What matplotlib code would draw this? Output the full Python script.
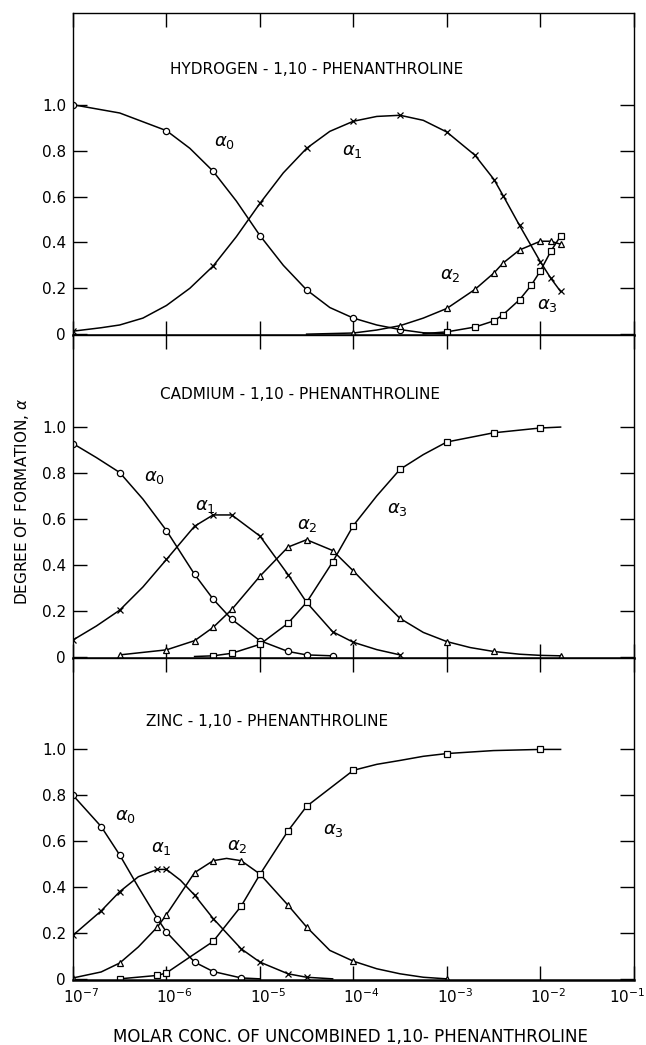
import numpy as np
import matplotlib.pyplot as plt
from matplotlib.ticker import NullLocator
from matplotlib.transforms import ScaledTranslation

# ---- hydrogen - 1,10-phenanthroline (marked points, then extra points)
h_a0_x = [1e-7, 1e-6, 3.16e-6, 1e-5, 3.16e-5, 1e-4, 3.16e-4]
h_a0_y = [1.0, 0.887, 0.71, 0.43, 0.193, 0.07, 0.02]
h_a0_cx = [3.16e-7, 1.78e-6, 5.6e-6, 1.78e-5, 5.6e-5, 1.78e-4, 5.6e-4, 1e-3]
h_a0_cy = [0.964, 0.81, 0.58, 0.30, 0.116, 0.04, 0.006, 0.002]

h_a1_x = [1e-7, 3.16e-6, 1e-5, 3.16e-5, 1e-4, 3.16e-4, 1e-3, 2e-3, 3.2e-3, 4e-3, 6e-3, 1e-2, 1.3e-2, 1.65e-2]
h_a1_y = [0.013, 0.297, 0.57, 0.81, 0.928, 0.954, 0.881, 0.78, 0.674, 0.604, 0.474, 0.316, 0.243, 0.186]
h_a1_cx = [2e-7, 3.16e-7, 5.6e-7, 1e-6, 1.78e-6, 5.6e-6, 1.78e-5, 5.6e-5, 1.78e-4, 5.6e-4]
h_a1_cy = [0.028, 0.04, 0.07, 0.125, 0.20, 0.425, 0.703, 0.884, 0.949, 0.932]

h_a2_x = [1e-4, 3.16e-4, 1e-3, 2e-3, 3.2e-3, 4e-3, 6e-3, 1e-2, 1.3e-2, 1.65e-2]
h_a2_y = [0.005, 0.037, 0.112, 0.195, 0.267, 0.31, 0.367, 0.405, 0.405, 0.392]
h_a2_cx = [3.16e-5, 1.78e-4, 5.6e-4]
h_a2_cy = [0.0, 0.018, 0.07]

h_a3_x = [1e-3, 2e-3, 3.2e-3, 4e-3, 6e-3, 8e-3, 1e-2, 1.3e-2, 1.65e-2]
h_a3_y = [0.01, 0.031, 0.058, 0.085, 0.15, 0.213, 0.275, 0.362, 0.428]
h_a3_cx = [5.6e-4]
h_a3_cy = [0.002]

# ---- cadmium - 1,10-phenanthroline
c_a0_x = [1e-7, 3.16e-7, 1e-6, 2e-6, 3.16e-6, 5e-6, 1e-5, 2e-5, 3.16e-5, 6e-5]
c_a0_y = [0.928, 0.802, 0.549, 0.358, 0.25, 0.162, 0.069, 0.022, 0.007, 0.003]
c_a0_cx = [1.78e-7, 5.6e-7]
c_a0_cy = [0.867, 0.686]

c_a1_x = [1e-7, 3.16e-7, 1e-6, 2e-6, 3.16e-6, 5e-6, 1e-5, 2e-5, 6e-5, 1e-4, 3.16e-4]
c_a1_y = [0.072, 0.202, 0.423, 0.568, 0.617, 0.617, 0.525, 0.357, 0.108, 0.062, 0.007]
c_a1_cx = [1.78e-7, 5.6e-7, 3.16e-5, 1.78e-4]
c_a1_cy = [0.133, 0.303, 0.236, 0.03]

c_a2_x = [3.16e-7, 1e-6, 2e-6, 3.16e-6, 5e-6, 1e-5, 2e-5, 3.16e-5, 6e-5, 1e-4, 3.16e-4, 1e-3, 3.16e-3, 1.65e-2]
c_a2_y = [0.007, 0.029, 0.069, 0.127, 0.205, 0.35, 0.477, 0.509, 0.462, 0.373, 0.166, 0.065, 0.022, 0.003]
c_a2_cx = [1.78e-4, 5.6e-4, 1.78e-3, 6e-3, 1e-2]
c_a2_cy = [0.267, 0.105, 0.039, 0.01, 0.005]

c_a3_x = [3.16e-6, 5e-6, 1e-5, 2e-5, 3.16e-5, 6e-5, 1e-4, 3.16e-4, 1e-3, 3.16e-3, 1e-2]
c_a3_y = [0.003, 0.014, 0.053, 0.145, 0.236, 0.412, 0.571, 0.816, 0.935, 0.975, 0.996]
c_a3_cx = [2e-6, 1.78e-4, 5.6e-4, 1.65e-2]
c_a3_cy = [0.0, 0.70, 0.88, 1.0]

# ---- zinc - 1,10-phenanthroline
z_a0_x = [1e-7, 2e-7, 3.16e-7, 8e-7, 1e-6, 2e-6, 3.16e-6, 6.3e-6]
z_a0_y = [0.80, 0.664, 0.54, 0.263, 0.204, 0.073, 0.032, 0.004]
z_a0_cx = [5e-7, 1e-5]
z_a0_cy = [0.40, 0.0]

z_a1_x = [1e-7, 2e-7, 3.16e-7, 8e-7, 1e-6, 2e-6, 3.16e-6, 6.3e-6, 1e-5, 2e-5, 3.16e-5]
z_a1_y = [0.19, 0.296, 0.38, 0.477, 0.477, 0.365, 0.263, 0.131, 0.073, 0.022, 0.007]
z_a1_cx = [5e-7, 1.41e-6, 6e-5]
z_a1_cy = [0.445, 0.43, 0.0]

z_a2_x = [1e-7, 3.16e-7, 8e-7, 1e-6, 2e-6, 3.16e-6, 6.3e-6, 1e-5, 2e-5, 3.16e-5, 1e-4, 1e-3]
z_a2_y = [0.004, 0.069, 0.226, 0.28, 0.463, 0.515, 0.515, 0.457, 0.321, 0.226, 0.077, 0.0]
z_a2_cx = [2e-7, 5e-7, 4.4e-6, 5.6e-5, 1.78e-4, 3.16e-4, 5.6e-4]
z_a2_cy = [0.03, 0.139, 0.525, 0.124, 0.044, 0.022, 0.007]

z_a3_x = [3.16e-7, 8e-7, 1e-6, 3.16e-6, 6.3e-6, 1e-5, 2e-5, 3.16e-5, 1e-4, 1e-3, 1e-2]
z_a3_y = [0.0, 0.015, 0.026, 0.163, 0.317, 0.455, 0.645, 0.752, 0.909, 0.982, 1.0]
z_a3_cx = [1.78e-6, 5.6e-5, 1.78e-4, 3.16e-4, 5.6e-4, 3.16e-3, 1.65e-2]
z_a3_cy = [0.095, 0.83, 0.935, 0.952, 0.97, 0.995, 1.0]

titles = ['HYDROGEN - 1,10 - PHENANTHROLINE',
          'CADMIUM - 1,10 - PHENANTHROLINE',
          'ZINC - 1,10 - PHENANTHROLINE']
title_pos = [(1.08e-6, 1.153), (8.5e-7, 1.143), (6.0e-7, 1.123)]

y_ticks = [0, 0.2, 0.4, 0.6, 0.8, 1.0]
y_tick_labels = ['0', '0.2', '0.4', '0.6', '0.8', '1.0']
x_ticks = [1e-7, 1e-6, 1e-5, 1e-4, 1e-3, 1e-2, 1e-1]
x_tick_labels = [r'$10^{-7}$', r'$10^{-6}$', r'$10^{-5}$', r'$10^{-4}$',
                 r'$10^{-3}$', r'$10^{-2}$', r'$10^{-1}$']

# positions of the alpha labels, per panel
h_lab = [(3.2e-6, 0.80), (7.5e-5, 0.76), (8.5e-4, 0.22), (9.2e-3, 0.09)]
c_lab = [(5.8e-7, 0.745), (2.0e-6, 0.615), (2.5e-5, 0.535), (2.3e-4, 0.605)]
z_lab = [(2.8e-7, 0.67), (6.9e-7, 0.53), (4.4e-6, 0.54), (4.7e-5, 0.61)]


def DrawSeries(ax, mx, my, cx, cy, marker, ms):
    x = np.array(mx + cx)
    y = np.array(my + cy)
    order = np.argsort(x)
    ax.plot(x[order], y[order], 'k-', linewidth=1.1)
    ax.plot(mx, my, linestyle='none', marker=marker, ms=ms,
            mfc='white', mec='k', mew=0.9)


def SetupAxes(ax):
    ax.set_xscale('log')
    ax.set_xlim(1e-7, 1e-1)
    ax.set_ylim(-0.005, 1.4)
    ax.set_xticks(x_ticks)
    ax.set_xticklabels(x_tick_labels)
    ax.set_yticks(y_ticks)
    ax.set_yticklabels(y_tick_labels)
    ax.xaxis.set_minor_locator(NullLocator())
    ax.tick_params(which='major', direction='in', length=10, width=1.0,
                   left=True, right=True, top=True, bottom=True,
                   labelsize=11, pad=5)
    for side in ['left', 'right', 'top']:
        ax.spines[side].set_linewidth(1.0)
    ax.spines['bottom'].set_linewidth(1.8)


if __name__ == "__main__":
    fig, axes = plt.subplots(3, 1, figsize=(6.46, 10.45), dpi=100, sharex=True)
    plt.subplots_adjust(left=0.113, right=0.981, top=0.9876, bottom=0.0622, hspace=0)

    panels = [
        [(h_a0_x, h_a0_y, h_a0_cx, h_a0_cy), (h_a1_x, h_a1_y, h_a1_cx, h_a1_cy),
         (h_a2_x, h_a2_y, h_a2_cx, h_a2_cy), (h_a3_x, h_a3_y, h_a3_cx, h_a3_cy)],
        [(c_a0_x, c_a0_y, c_a0_cx, c_a0_cy), (c_a1_x, c_a1_y, c_a1_cx, c_a1_cy),
         (c_a2_x, c_a2_y, c_a2_cx, c_a2_cy), (c_a3_x, c_a3_y, c_a3_cx, c_a3_cy)],
        [(z_a0_x, z_a0_y, z_a0_cx, z_a0_cy), (z_a1_x, z_a1_y, z_a1_cx, z_a1_cy),
         (z_a2_x, z_a2_y, z_a2_cx, z_a2_cy), (z_a3_x, z_a3_y, z_a3_cx, z_a3_cy)],
    ]
    labels = [h_lab, c_lab, z_lab]
    markers = [('o', 4.5), ('x', 5), ('^', 4.5), ('s', 4.2)]

    for i, ax in enumerate(axes):
        SetupAxes(ax)
        for (mx, my, cx, cy), (mk, ms) in zip(panels[i], markers):
            DrawSeries(ax, mx, my, cx, cy, mk, ms)
        for k, (lx, ly) in enumerate(labels[i]):
            ax.text(lx, ly, r'$\alpha_{%d}$' % k, fontsize=13, ha='left', va='bottom')
        ax.text(title_pos[i][0], title_pos[i][1], titles[i], fontsize=11,
                ha='left', va='center')

    axes[0].tick_params(labelbottom=False)
    axes[1].tick_params(labelbottom=False)

    # the "10" of each label sits over its tick, so nudge the labels right
    tick_labels = axes[2].get_xticklabels()
    shift = ScaledTranslation(8 / 100, 0, fig.dpi_scale_trans)
    for lab in tick_labels[:-1]:
        lab.set_transform(lab.get_transform() + shift)
    tick_labels[-1].set_ha('right')
    tick_labels[-1].set_transform(tick_labels[-1].get_transform() +
                                  ScaledTranslation(11 / 100, 0, fig.dpi_scale_trans))

    fig.text(0.034, 0.52, r'DEGREE OF FORMATION, $\alpha$', rotation=90,
             ha='center', va='center', fontsize=11)
    fig.text(0.542, 0.008, 'MOLAR CONC. OF UNCOMBINED 1,10- PHENANTHROLINE',
             ha='center', va='center', fontsize=12)

    plt.savefig('out.png')
